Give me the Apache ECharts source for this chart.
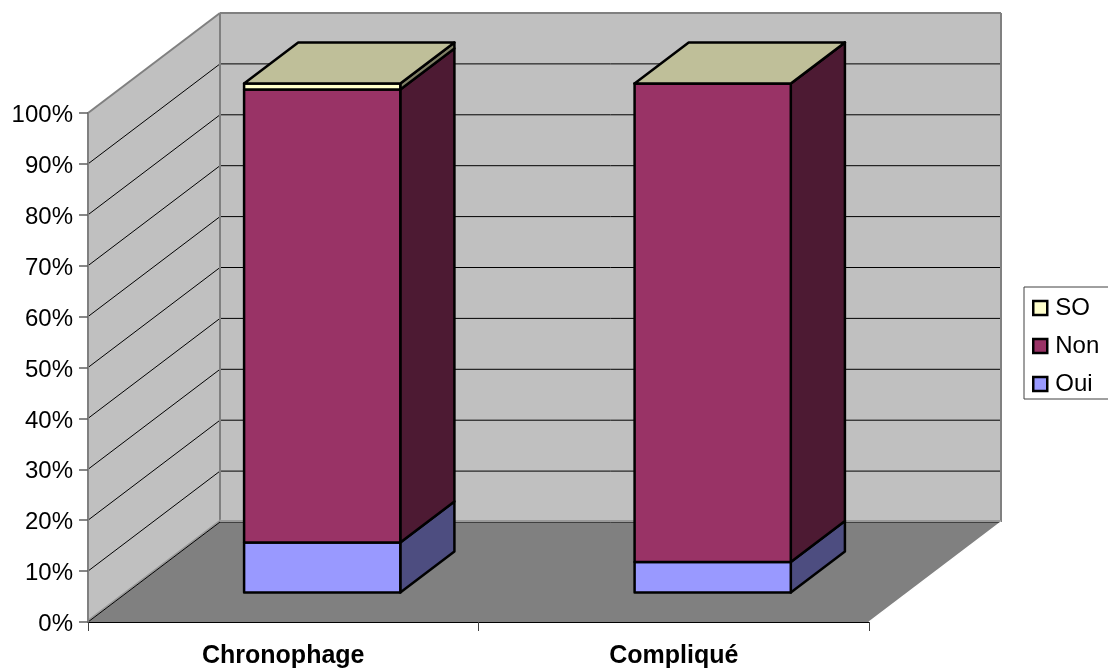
<!DOCTYPE html>
<html>
<head>
<meta charset="utf-8">
<style>html,body{margin:0;padding:0;background:#fff}#c{width:1108px;height:672px}</style>
<script src="https://cdn.jsdelivr.net/npm/echarts@6/dist/echarts.min.js"></script>
</head>
<body>
<div id="c"></div>
<script>
const categories = ['Chronophage', 'Compliqué'];
const oui = [9.8, 6];
const non = [89, 94];
const so = [1.2, 0];
const legendOrder = ['SO', 'Non', 'Oui'];
const yTicks = [0, 10, 20, 30, 40, 50, 60, 70, 80, 90, 100];

const DEPTH_X = 132, DEPTH_Y = -100;
const BAR_NEAR = 0.295, BAR_FAR = 0.705, BAR_WIDTH = 0.4;
const FONT = '"Liberation Sans", Arial, sans-serif';

function pt(api, cat, val, d, bandOffset) {
  const c = api.coord([cat, val]);
  const band = api.size([1, 0])[0];
  return [c[0] + (bandOffset || 0) * band + d * DEPTH_X, c[1] + d * DEPTH_Y];
}
function poly(points, fill, stroke, lw) {
  return { type: 'polygon', shape: { points }, style: { fill, stroke: stroke || 'none', lineWidth: lw || 0, lineJoin: 'round' } };
}
function seg(a, b, stroke, lw) {
  return { type: 'line', shape: { x1: a[0], y1: a[1], x2: b[0], y2: b[1] }, style: { stroke, lineWidth: lw } };
}

function renderWalls(params, api) {
  const pL = (v, d) => pt(api, 0, v, d, -0.5);
  const pR = (v, d) => pt(api, categories.length - 1, v, d, 0.5);
  const GRAY = '#808080';
  const ch = [];
  const fl = pL(0, 0), fr = pR(0, 0), bl = pL(0, 1), br = pR(0, 1);
  const tfl = pL(100, 0), tbl = pL(100, 1), tbr = pR(100, 1);
  ch.push(poly([fl, bl, tbl, tfl], '#C0C0C0'));
  ch.push(poly([bl, br, tbr, tbl], '#C0C0C0'));
  ch.push(poly([fl, fr, br, bl], '#808080'));
  yTicks.filter(v => v > 0 && v < 100).forEach(v => {
    ch.push(seg(pL(v, 0), pL(v, 1), '#000', 1));
    ch.push(seg(pL(v, 1), pR(v, 1), '#000', 1));
  });
  ch.push(seg(tfl, tbl, GRAY, 2));
  ch.push(seg(tbl, tbr, GRAY, 2));
  ch.push(seg(bl, tbl, GRAY, 2));
  ch.push(seg(br, tbr, GRAY, 2));
  ch.push(seg([bl[0], bl[1] - 1], [br[0], br[1] - 1], '#999', 2));
  ch.push(seg([bl[0], bl[1] + 0.5], [br[0], br[1] + 0.5], '#404040', 1));
  ch.push(seg([fl[0] + 1, fl[1] - 2], [bl[0] + 1, bl[1] - 2], '#999', 2));
  ch.push(seg(fl, bl, '#000', 1));
  ch.push(seg(fr, br, '#fff', 1.5));
  return { type: 'group', children: ch };
}

function makeBarRender(front, side, top) {
  return function (params, api) {
    const cat = api.value(0), v0 = api.value(2), v1 = api.value(1);
    const lo = -BAR_WIDTH / 2, hi = BAR_WIDTH / 2, lw = 2.5;
    const a = pt(api, cat, v0, BAR_NEAR, lo), b = pt(api, cat, v0, BAR_NEAR, hi);
    const c = pt(api, cat, v1, BAR_NEAR, hi), d = pt(api, cat, v1, BAR_NEAR, lo);
    const e = pt(api, cat, v0, BAR_FAR, hi), f = pt(api, cat, v1, BAR_FAR, hi), g = pt(api, cat, v1, BAR_FAR, lo);
    const ch = [poly([b, e, f, c], side, '#000', lw), poly([a, b, c, d], front, '#000', lw)];
    if (top) ch.push(poly([d, c, f, g], top, '#000', lw));
    return { type: 'group', children: ch };
  };
}

function barData(values, bases) {
  return values.map((v, i) => [i, bases[i] + v, bases[i]]);
}
const baseOui = oui.map(() => 0);
const baseNon = oui.slice();
const baseSo = oui.map((v, i) => v + non[i]);

const chart = echarts.init(document.getElementById('c'), null, { renderer: 'canvas' });
chart.setOption({
  animation: false,
  backgroundColor: '#fff',
  grid: { left: 88, right: 239, top: 113, bottom: 50, containLabel: false },
  xAxis: {
    type: 'category', data: categories,
    axisLine: { show: true, lineStyle: { color: '#000', width: 1 } },
    axisTick: { show: true, length: 9, lineStyle: { color: '#404040', width: 1 } },
    axisLabel: { color: '#000', fontFamily: FONT, fontSize: 25, fontWeight: 'bold', margin: 22 },
    z: 3
  },
  yAxis: {
    type: 'value', min: 0, max: 100, interval: 10,
    axisLine: { show: true, lineStyle: { color: '#808080', width: 2 } },
    axisTick: { show: true, length: 9, lineStyle: { color: '#606060', width: 1.5 } },
    axisLabel: {
      color: '#000', fontFamily: FONT, fontSize: 24, margin: 15, hideOverlap: false,
      formatter: v => '{v|' + v + '%}',
      rich: { v: { color: '#000', fontFamily: FONT, fontSize: 24, padding: [5, 0, 0, 0] } }
    },
    splitLine: { show: false },
    z: 3
  },
  legend: {
    orient: 'vertical', left: 1024, top: 287,
    data: legendOrder, icon: 'rect', itemWidth: 14, itemHeight: 14, itemGap: 14,
    padding: [9, 12, 3, 8],
    backgroundColor: '#fff', borderColor: '#404040', borderWidth: 1,
    textStyle: { color: '#000', fontFamily: FONT, fontSize: 24, padding: [0, 0, 0, 3] },
    itemStyle: { borderColor: '#000', borderWidth: 2.5 },
    selectedMode: false
  },
  series: [
    { name: 'walls', type: 'custom', silent: true, clip: false, z: 1, renderItem: renderWalls, data: [[0, 0]], encode: { x: 0, y: 1 } },
    { name: 'Oui', type: 'custom', silent: true, clip: false, z: 4, itemStyle: { color: '#9999FF' },
      renderItem: makeBarRender('#9999FF', '#4D4D80'), data: barData(oui, baseOui), encode: { x: 0, y: 1 } },
    { name: 'Non', type: 'custom', silent: true, clip: false, z: 4, itemStyle: { color: '#993366' },
      renderItem: makeBarRender('#993366', '#4D1A33'), data: barData(non, baseNon), encode: { x: 0, y: 1 } },
    { name: 'SO', type: 'custom', silent: true, clip: false, z: 4, itemStyle: { color: '#FFFFCC' },
      renderItem: makeBarRender('#FFFFCC', '#808066', '#BFBF99'), data: barData(so, baseSo), encode: { x: 0, y: 1 } }
  ]
});
</script>
</body>
</html>
